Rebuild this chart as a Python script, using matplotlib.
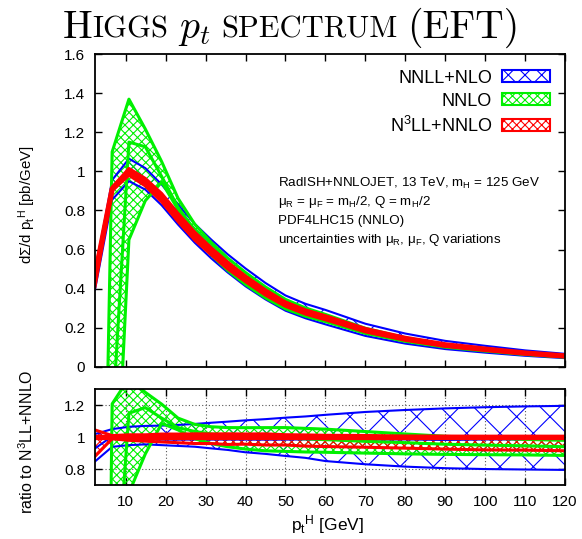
import matplotlib
matplotlib.use("Agg")
import matplotlib.pyplot as plt
import matplotlib.transforms as mtransforms
from matplotlib.patches import Patch
import numpy as np

# pt grid (GeV)
pt = [2.3, 6.6, 10.8, 14.9, 19.0, 23.1, 27.3, 31.4, 35.5, 40, 45, 50, 55, 60,
      70, 80, 90, 100, 110, 120]

# N3LL+NNLO (reference)
n3ll_c = [0.465, 0.91, 1.0, 0.95, 0.87, 0.77, 0.675, 0.597, 0.525, 0.455, 0.385,
          0.325, 0.285, 0.255, 0.19, 0.145, 0.112, 0.09, 0.07, 0.055]
n3ll_lo = [0.409, 0.901, 0.98, 0.926, 0.844, 0.743, 0.648, 0.573, 0.501, 0.435,
           0.366, 0.309, 0.269, 0.240, 0.178, 0.135, 0.1036, 0.0828, 0.0643, 0.0503]
n3ll_hi = [0.486, 0.919, 1.015, 0.964, 0.887, 0.785, 0.689, 0.609, 0.536, 0.464,
           0.393, 0.330, 0.289, 0.258, 0.192, 0.146, 0.1127, 0.0905, 0.0704, 0.0553]

# NNLL+NLO
nnll_c = [0.432, 0.915, 1.0, 0.94, 0.857, 0.758, 0.665, 0.588, 0.517, 0.448, 0.379,
          0.320, 0.281, 0.251, 0.187, 0.143, 0.110, 0.0887, 0.069, 0.0542]
nnll_lo = [0.394, 0.855, 0.95, 0.907, 0.8265, 0.7277, 0.6345, 0.555, 0.483, 0.4118,
           0.3446, 0.2867, 0.248, 0.2168, 0.1577, 0.1182, 0.0902, 0.072, 0.0558, 0.0437]
nnll_hi = [0.474, 0.956, 1.065, 1.017, 0.933, 0.829, 0.731, 0.651, 0.576, 0.503,
           0.4285, 0.3647, 0.322, 0.2907, 0.220, 0.1697, 0.1322, 0.1069, 0.0835, 0.0658]

# NNLO
nnlo_c = [-6.0, -0.3, 1.15, 1.126, 0.974, 0.816, 0.699, 0.609, 0.530, 0.457, 0.385,
          0.323, 0.282, 0.251, 0.185, 0.140, 0.107, 0.0855, 0.0662, 0.0517]
nnlo_lo = [-9.0, -1.1, 0.65, 0.85, 0.945, 0.805, 0.668, 0.573, 0.4935, 0.421, 0.352,
           0.296, 0.2585, 0.2308, 0.171, 0.1298, 0.0999, 0.0801, 0.0622, 0.0487]
nnlo_hi = [-3.4, 1.10, 1.37, 1.217, 1.05, 0.862, 0.729, 0.636, 0.5565, 0.482, 0.408,
           0.3445, 0.3007, 0.2678, 0.1967, 0.1479, 0.1126, 0.0896, 0.069, 0.0539]

xticks = [10, 20, 30, 40, 50, 60, 70, 80, 90, 100, 110, 120]
yticks_top = [0, 0.2, 0.4, 0.6, 0.8, 1, 1.2, 1.4, 1.6]
ytick_labels_top = ["0", "0.2", "0.4", "0.6", "0.8", "1", "1.2", "1.4", "1.6"]
yticks_rat = [0.8, 1, 1.2]
ytick_labels_rat = ["0.8", "1", "1.2"]

info_lines = ["RadISH+NNLOJET, 13 TeV, m$_H$ = 125 GeV",
              r"$\mu_R$ = $\mu_F$ = m$_H$/2, Q = m$_H$/2",
              "PDF4LHC15 (NNLO)",
              r"uncertainties with $\mu_R$, $\mu_F$, Q variations"]

plt.rcParams["font.family"] = ["Liberation Sans", "DejaVu Sans"]
plt.rcParams["mathtext.default"] = "regular"
plt.rcParams["hatch.linewidth"] = 0.8

BLUE = "#0000ff"
GREEN = "#00f000"
RED = "#ff0000"

fig = plt.figure(figsize=(5.82, 5.39), dpi=100)
ax1 = fig.add_axes([0.1632, 0.3197, 0.8076, 0.5797])
ax2 = fig.add_axes([0.1632, 0.1002, 0.8076, 0.1775])

x = np.array(pt)
ref = np.array(n3ll_c)

series = [
    (nnll_lo, nnll_c, nnll_hi, BLUE, "x", 1.5, 1.5),
    (nnlo_lo, nnlo_c, nnlo_hi, GREEN, "xxxx", 2.2, 2.2),
    (n3ll_lo, n3ll_c, n3ll_hi, RED, "xxxx", 2.2, 3.8),
]

for ax, scale in [(ax1, None), (ax2, ref)]:
    for lo, c, hi, col, hatch, lw, lwc in series:
        lo = np.array(lo)
        c = np.array(c)
        hi = np.array(hi)
        if scale is not None:
            lo, c, hi = lo / scale, c / scale, hi / scale
        ax.fill_between(x, lo, hi, facecolor="none", edgecolor=col, hatch=hatch, linewidth=0)
        ax.plot(x, lo, color=col, lw=lw)
        ax.plot(x, hi, color=col, lw=lw)
        ax.plot(x, c, color=col, lw=lwc)

for ax in (ax1, ax2):
    ax.set_xlim(2.3, 120)
    ax.set_xticks(xticks)
    ax.tick_params(direction="in", top=True, right=True, length=5, width=1,
                   labelsize=11, pad=7)
    for s in ax.spines.values():
        s.set_linewidth(1.3)

ax1.set_ylim(0, 1.6)
ax1.set_yticks(yticks_top)
ax1.set_yticklabels(ytick_labels_top)
ax1.tick_params(labelbottom=False)

ax2.set_ylim(0.7, 1.3)
ax2.set_yticks(yticks_rat)
ax2.set_yticklabels(ytick_labels_rat)
ax2.set_xticklabels([str(v) for v in xticks])
ax2.grid(True, color="#555555", linestyle=(0, (1, 2)), linewidth=0.8)
ax2.set_axisbelow(True)

# legend
handles = [Patch(facecolor="white", edgecolor=BLUE, hatch="xx", lw=1.5),
           Patch(facecolor="white", edgecolor=GREEN, hatch="xxxx", lw=1.5),
           Patch(facecolor="white", edgecolor=RED, hatch="xxxx", lw=1.5)]
labels = ["NNLL+NLO", "NNLO", "N$^3$LL+NNLO"]
ax1.legend(handles, labels, loc="upper right", frameon=False, markerfirst=False,
           fontsize=13, handlelength=2.65, handleheight=0.65, handletextpad=0.55,
           labelspacing=0.33, borderaxespad=0.45)

for i, line in enumerate(info_lines):
    ax1.text(0.389, 0.588 - i * 0.061, line, transform=ax1.transAxes,
             fontsize=9.6, va="center", ha="left")

fig.text(27 / 582, 1 - 205 / 539, "d$\\Sigma$/d p$_t$$^H$ [pb/GeV]", rotation=90,
         ha="center", va="center", fontsize=10.8)
fig.text(27 / 582, 1 - 442 / 539, "ratio to N$^3$LL+NNLO", rotation=90,
         ha="center", va="center", fontsize=11.5)
fig.text(328 / 582, 1 - 525 / 539, "p$_t$$^H$ [GeV]", ha="center", va="center",
         fontsize=12.5)

# small-caps title built from pieces
B, S = 28.5, 22
pieces = [("H", B, {}), ("IGGS", S, {}), (10, None, None),
          (r"$\mathit{p}_\mathit{t}$", B, {"math_fontfamily": "cm"}), (10, None, None),
          ("SPECTRUM", S, {}), (10, None, None), ("(EFT)", B, {})]
renderer = fig.canvas.get_renderer()
ident = mtransforms.IdentityTransform()
texts = []
total = 0
for s, size, kw in pieces:
    if size is None:
        texts.append(s)
        total += s
        continue
    t = fig.text(0, 0, s, fontsize=size, transform=ident, va="baseline", ha="left",
                 fontfamily="cmr10", **kw)
    w = t.get_window_extent(renderer).width
    texts.append((t, w))
    total += w
xpos = 291 - total / 2
for item in texts:
    if isinstance(item, (int, float)):
        xpos += item
        continue
    t, w = item
    t.set_position((xpos, 539 - 38))
    xpos += w

fig.savefig("out.png", dpi=100)
